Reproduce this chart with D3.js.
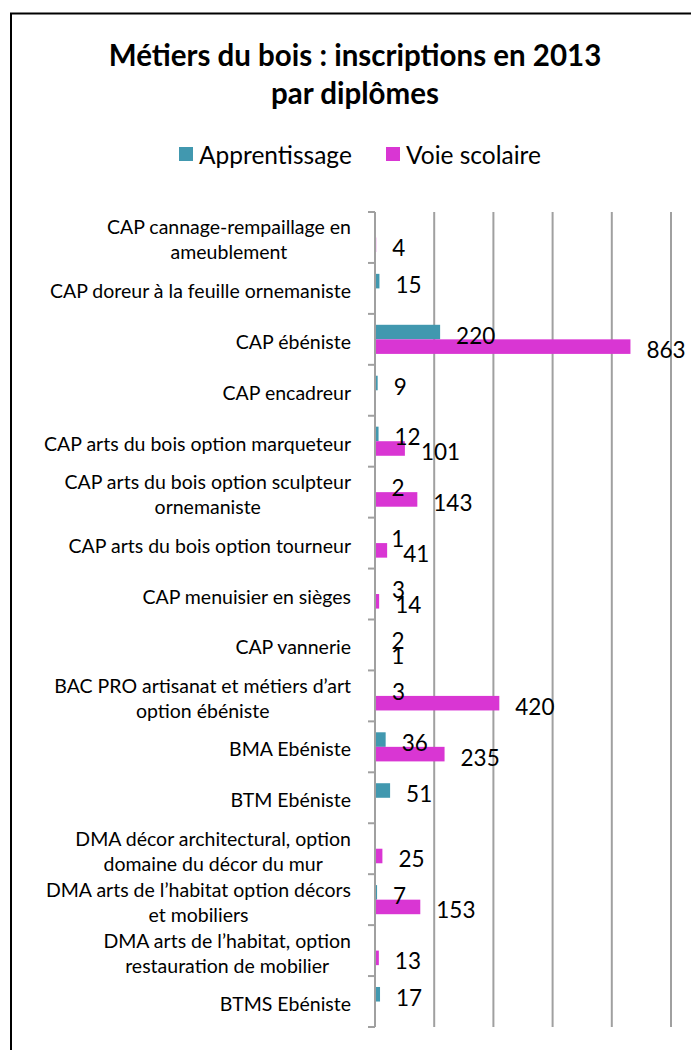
<!DOCTYPE html>
<html>
  <style>
    body { margin: 0; background: #fff; }
    text { font-family: Lato, "Open Sans", sans-serif; fill: #000; }
  </style>
  <body>
    <div id="chart"></div>
  </body>
  <script src="https://d3js.org/d3.v7.min.js"></script>
  <script>
    // Categories (each one is a list of lines as shown on the axis)
    var CATEGORIES = [
      ['CAP cannage-rempaillage en', 'ameublement'],
      ['CAP doreur à la feuille ornemaniste'],
      ['CAP ébéniste'],
      ['CAP encadreur'],
      ['CAP arts du bois option marqueteur'],
      ['CAP arts du bois option sculpteur', 'ornemaniste'],
      ['CAP arts du bois option tourneur'],
      ['CAP menuisier en sièges'],
      ['CAP vannerie'],
      ['BAC PRO artisanat et métiers d\u2019art', 'option ébéniste'],
      ['BMA Ebéniste'],
      ['BTM Ebéniste'],
      ['DMA décor architectural, option', 'domaine du décor du mur'],
      ['DMA arts de l\u2019habitat option décors', 'et mobiliers'],
      ['DMA arts de l\u2019habitat, option', 'restauration de mobilier'],
      ['BTMS Ebéniste']
    ];

    // Series values (null = no value)
    var APPRENTISSAGE = [null, 15, 220, 9, 12, 2, 1, 3, 2, 3, 36, 51, null, 7, null, 17];
    var VOIE_SCOLAIRE = [4, null, 863, null, 101, 143, 41, 14, 1, 420, 235, null, 25, 153, 13, null];

    var SERIES = ['Apprentissage', 'Voie scolaire'];
    var COLORS = ['#4198af', '#d936d3'];
    var GRID_TICKS = [0, 200, 400, 600, 800, 1000];

    var SVG_WIDTH = 691;
    var SVG_HEIGHT = 1050;
    var PLOT_LEFT = 375;
    var PLOT_RIGHT = 671;
    var PLOT_TOP = 212;
    var PLOT_BOTTOM = 1027;

    var svg = d3.select('#chart')
                .append('svg')
                .attr('width', SVG_WIDTH)
                .attr('height', SVG_HEIGHT);

    // Outer frame (runs off the right and bottom edges)
    svg.append('rect')
       .attr('x', 11)
       .attr('y', 13.5)
       .attr('width', 800)
       .attr('height', 1200)
       .attr('fill', 'none')
       .attr('stroke', '#000')
       .attr('stroke-width', 2);

    // Title
    var title = svg.append('text')
                   .attr('text-anchor', 'middle')
                   .style('font-weight', 'bold')
                   .style('font-size', '29.5px');
    title.append('tspan').attr('x', 355).attr('y', 66).text('Métiers du bois : inscriptions en 2013');
    title.append('tspan').attr('x', 355).attr('y', 104).text('par diplômes');

    // Legend
    var legendX = [179, 386];
    SERIES.forEach(function (s, i) {
      svg.append('rect')
         .attr('x', legendX[i])
         .attr('y', 147)
         .attr('width', 14)
         .attr('height', 14)
         .attr('fill', COLORS[i]);
      svg.append('text')
         .attr('x', legendX[i] + 20)
         .attr('y', 164)
         .style('font-size', '24.5px')
         .text(s);
    });

    // Scales
    var xScale = d3.scaleLinear().domain([0, 1000]).range([PLOT_LEFT, PLOT_RIGHT]);
    var yScale = d3.scaleBand().domain(d3.range(CATEGORIES.length)).range([PLOT_TOP, PLOT_BOTTOM]);
    var ySub = d3.scaleBand().domain(SERIES).range([0, yScale.bandwidth()]).paddingOuter(0.75);

    // Vertical gridlines
    svg.selectAll('.grid')
       .data(GRID_TICKS)
       .enter()
       .append('line')
       .attr('class', 'grid')
       .attr('x1', function (d) { return xScale(d); })
       .attr('x2', function (d) { return xScale(d); })
       .attr('y1', PLOT_TOP)
       .attr('y2', PLOT_BOTTOM)
       .attr('stroke', '#a0a0a0')
       .attr('stroke-width', 2);

    // Category axis ticks at band boundaries
    var boundaries = d3.range(CATEGORIES.length + 1).map(function (i) {
      return i < CATEGORIES.length ? yScale(i) : PLOT_BOTTOM;
    });
    svg.selectAll('.tick')
       .data(boundaries)
       .enter()
       .append('line')
       .attr('x1', PLOT_LEFT - 7)
       .attr('x2', PLOT_LEFT)
       .attr('y1', function (d) { return d; })
       .attr('y2', function (d) { return d; })
       .attr('stroke', '#a0a0a0')
       .attr('stroke-width', 2);

    // Category labels: right aligned block, lines centred in the block
    CATEGORIES.forEach(function (lines, i) {
      var cy = yScale(i) + yScale.bandwidth() / 2 + 2;
      var g = svg.append('g');
      var texts = lines.map(function (line, j) {
        return g.append('text')
                .attr('y', cy + (j - (lines.length - 1) / 2) * 25)
                .attr('dominant-baseline', 'central')
                .attr('text-anchor', 'middle')
                .style('font-size', '19.5px')
                .text(line);
      });
      var w = d3.max(texts, function (t) { return t.node().getComputedTextLength(); });
      texts.forEach(function (t) { t.attr('x', 351 - w / 2); });
    });

    // Bars data
    var rows = [];
    CATEGORIES.forEach(function (c, i) {
      [APPRENTISSAGE[i], VOIE_SCOLAIRE[i]].forEach(function (v, k) {
        if (v !== null) rows.push({ cat: i, series: SERIES[k], color: COLORS[k], value: v });
      });
    });

    svg.selectAll('.bar')
       .data(rows)
       .enter()
       .append('rect')
       .attr('class', 'bar')
       .attr('x', xScale(0))
       .attr('y', function (d) { return yScale(d.cat) + ySub(d.series); })
       .attr('width', function (d) { return xScale(d.value) - xScale(0); })
       .attr('height', ySub.bandwidth())
       .attr('fill', function (d) { return d.color; });

    // Value axis line
    svg.append('line')
       .attr('x1', PLOT_LEFT)
       .attr('x2', PLOT_LEFT)
       .attr('y1', PLOT_TOP)
       .attr('y2', PLOT_BOTTOM)
       .attr('stroke', '#a0a0a0')
       .attr('stroke-width', 2);

    // Value labels
    svg.selectAll('.value')
       .data(rows)
       .enter()
       .append('text')
       .attr('class', 'value')
       .attr('x', function (d) { return xScale(d.value) + 16; })
       .attr('y', function (d) { return yScale(d.cat) + ySub(d.series) + ySub.bandwidth() / 2 + 3; })
       .attr('dominant-baseline', 'central')
       .style('font-size', '22.5px')
       .text(function (d) { return d.value; });
  </script>
</html>
